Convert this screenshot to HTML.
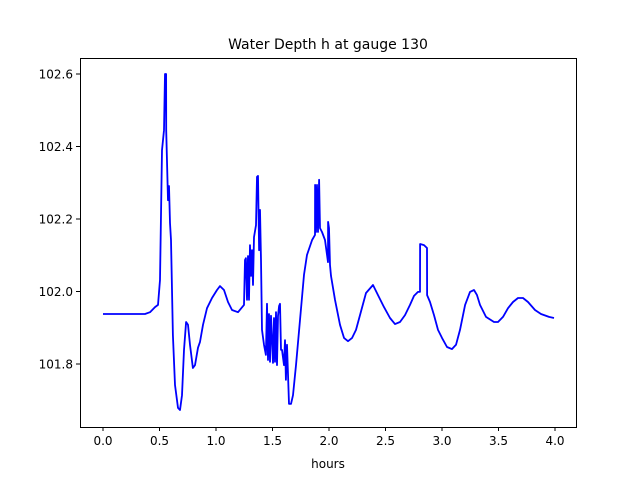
<!DOCTYPE html>
<html><head><meta charset="utf-8"><style>
body{margin:0;background:#fff;}
svg text{font-family:"DejaVu Sans","Liberation Sans",sans-serif;fill:#000;}
</style></head><body>
<svg id="chart" width="640" height="480" viewBox="0 0 640 480" xmlns="http://www.w3.org/2000/svg">
<rect width="640" height="480" fill="#fff"/>
<text x="328" y="49" font-size="14" text-anchor="middle">Water Depth h at gauge 130</text>
<text x="328" y="468" font-size="12" text-anchor="middle">hours</text>
<g id="plot"></g>
<rect x="80.5" y="58.5" width="496" height="369" fill="none" stroke="#000" stroke-width="1"/>
</svg>
<script>
const xTicks=[0,0.5,1,1.5,2,2.5,3,3.5,4];
const xTickLabels=["0.0","0.5","1.0","1.5","2.0","2.5","3.0","3.5","4.0"];
const yTicks=[101.8,102.0,102.2,102.4,102.6];
const yTickLabels=["101.8","102.0","102.2","102.4","102.6"];
const hours=[0,0.372,0.416,0.460,0.487,0.504,0.522,0.540,0.549,0.558,0.559,0.575,0.584,0.593,0.602,0.611,0.619,0.637,0.664,0.681,0.699,0.717,0.735,0.752,0.770,0.796,0.814,0.841,0.858,0.885,0.920,0.965,1.009,1.035,1.071,1.106,1.142,1.195,1.248,1.257,1.265,1.274,1.283,1.292,1.301,1.310,1.319,1.327,1.336,1.354,1.363,1.372,1.381,1.389,1.398,1.407,1.425,1.442,1.451,1.460,1.469,1.478,1.487,1.504,1.513,1.522,1.531,1.540,1.549,1.558,1.566,1.575,1.584,1.602,1.611,1.619,1.628,1.646,1.664,1.681,1.708,1.743,1.779,1.805,1.850,1.876,1.877,1.885,1.894,1.903,1.912,1.920,1.938,1.965,1.991,1.992,2.000,2.009,2.018,2.053,2.097,2.133,2.168,2.204,2.239,2.274,2.327,2.389,2.434,2.487,2.540,2.584,2.628,2.673,2.717,2.752,2.788,2.805,2.806,2.841,2.867,2.868,2.894,2.929,2.965,3.000,3.044,3.088,3.124,3.159,3.204,3.248,3.283,3.310,3.336,3.389,3.460,3.496,3.540,3.584,3.628,3.673,3.717,3.761,3.823,3.876,3.947,3.991];
const depth=[101.938,101.938,101.943,101.957,101.963,102.032,102.390,102.445,102.600,102.600,102.445,102.252,102.291,102.189,102.142,102.004,101.880,101.742,101.679,101.673,101.714,101.839,101.916,101.908,101.853,101.789,101.797,101.845,101.861,101.908,101.954,101.982,102.004,102.015,102.004,101.971,101.949,101.943,101.963,102.087,102.092,101.977,102.098,101.977,102.128,102.043,102.114,102.018,102.150,102.183,102.316,102.319,102.114,102.225,102.087,101.894,101.853,101.825,101.966,101.811,101.938,101.806,101.933,101.803,101.927,101.806,101.943,101.797,101.933,101.960,101.966,101.839,101.839,101.797,101.866,101.756,101.853,101.690,101.690,101.714,101.797,101.921,102.046,102.101,102.142,102.156,102.294,102.164,102.294,102.164,102.308,102.175,102.164,102.142,102.081,102.192,102.175,102.073,102.043,101.977,101.908,101.872,101.863,101.872,101.894,101.935,101.996,102.018,101.990,101.957,101.927,101.910,101.916,101.935,101.963,101.988,101.999,101.999,102.131,102.128,102.120,101.990,101.971,101.935,101.894,101.872,101.847,101.841,101.853,101.894,101.963,101.999,102.004,101.990,101.963,101.930,101.916,101.916,101.930,101.954,101.971,101.982,101.982,101.971,101.949,101.938,101.930,101.927];
const L=80,R=576,T=58,B=427;
function xs(v){return 103+v*113;}
function ys(v){return 291.5-(v-102)*362.5;}
const ns="http://www.w3.org/2000/svg";
const g=document.getElementById('plot');
xTicks.forEach((t,i)=>{
  const ln=document.createElementNS(ns,'line');
  
  
  ln.setAttribute('x1',xs(t));ln.setAttribute('x2',xs(t));ln.setAttribute('y1',B);ln.setAttribute('y2',B+4);ln.setAttribute('stroke','#000');
  g.appendChild(ln);
  const tx=document.createElementNS(ns,'text');
  
  
  tx.setAttribute('x',xs(t));tx.setAttribute('y',B+18);tx.setAttribute('font-size','12');tx.setAttribute('text-anchor','middle');
  tx.textContent=xTickLabels[i];g.appendChild(tx);
});
yTicks.forEach((t,i)=>{
  const ln=document.createElementNS(ns,'line');
  
  
  ln.setAttribute('x1',L-4);ln.setAttribute('x2',L);ln.setAttribute('y1',ys(t));ln.setAttribute('y2',ys(t));ln.setAttribute('stroke','#000');
  g.appendChild(ln);
  const tx=document.createElementNS(ns,'text');
  
  
  tx.setAttribute('x',L-7);tx.setAttribute('y',ys(t)+4.5);tx.setAttribute('font-size','12');tx.setAttribute('text-anchor','end');
  tx.textContent=yTickLabels[i];g.appendChild(tx);
});
const p=document.createElementNS(ns,'path');


p.setAttribute('d',hours.map((h,i)=>(i?'L':'M')+xs(h).toFixed(1)+','+ys(depth[i]).toFixed(1)).join(''));
p.setAttribute('fill','none');p.setAttribute('stroke','#0000ff');p.setAttribute('stroke-width','1.8');p.setAttribute('stroke-linejoin','round');
g.appendChild(p);
</script>
</body></html>
